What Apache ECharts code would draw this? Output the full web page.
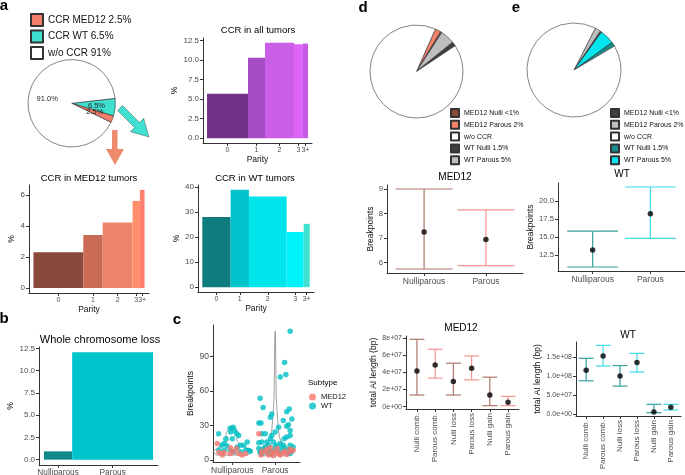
<!DOCTYPE html>
<html>
<head>
<meta charset="utf-8">
<script src="https://cdn.jsdelivr.net/npm/echarts@6/dist/echarts.min.js"></script>
<style>
html, body { margin: 0; padding: 0; background: #fff; }
#chart { width: 685px; height: 475px; }
</style>
</head>
<body>
<div id="chart"></div>
<script>
// ---------- data ----------
// panel a: pie of CCR frequency
const pieANames = ['CCR MED12 2.5%', 'CCR WT 6.5%', 'w/o CCR 91%']
const pieAValues = [2.5, 6.5, 91.0]

// panel a: CCR by parity (bar width = share of tumours, height = % with CCR)
const parityLabels = ['0', '1', '2', '3', '3+']
const allWidths = [41, 17, 29, 9, 5]
const allPct = [5.7, 10.3, 12.2, 12.0, 12.1]
const med12Widths = [50, 19.4, 30, 7.3, 4.7]
const med12Pct = [2.31, 3.41, 4.22, 5.61, 6.32]
const wtWidths = [28.3, 18.3, 37.7, 17, 6]
const wtPct = [28.0, 38.9, 36.2, 22.0, 25.3]

// panel b: whole chromosome loss
const parityCats = ['Nulliparous', 'Parous']
const wclWidths = [28.4, 81.3]
const wclPct = [0.93, 12.05]

// panel c: breakpoints per tumour, [jittered category, breakpoints]
const bpMed12 = [
  [0.65, 14.3], [0.69, 6.6], [0.77, 4.3], [0.81, 6.6], [0.95, 5.7], [1.02, 7.1], [1.15, 5.7],
  [1.23, 4.3], [1.31, 5.7], [1.10, 10.0], [0.96, 10.6],
  [1.62, 22.9], [2.35, 9.4], [2.42, 8.6], [1.69, 7.7], [1.77, 7.1], [1.89, 10.6], [1.92, 6.6],
  [2.00, 7.1], [2.08, 5.7], [2.19, 6.6], [1.85, 4.3], [1.96, 3.7], [2.12, 4.3], [2.27, 4.9],
  [1.81, 9.4], [2.05, 10.0], [1.67, 4.3], [2.35, 7.1], [2.23, 7.7]
]
const bpWt = [
  [0.68, 22.9], [0.75, 12.9], [0.81, 14.3], [0.85, 18.6], [0.95, 27.7], [0.96, 24.3], [1.02, 28.6],
  [1.05, 25.7], [1.10, 22.9], [1.15, 21.4], [1.00, 18.6], [0.88, 12.3], [1.19, 12.9], [1.27, 12.9],
  [1.35, 15.7], [1.38, 8.6], [0.81, 8.6], [0.69, 8.6], [1.12, 11.4], [1.04, 7.1], [0.95, 8.6],
  [1.19, 7.1], [1.31, 8.6], [1.42, 7.7],
  [2.35, 112.0], [2.22, 84.9], [2.25, 74.3], [2.12, 72.3], [1.65, 53.7], [1.72, 45.7], [2.33, 44.3],
  [2.27, 42.0], [1.92, 40.0], [1.89, 37.2], [2.39, 35.7], [1.62, 32.3], [1.67, 32.3], [2.19, 34.3],
  [2.31, 30.6], [2.27, 29.4], [2.08, 28.6], [2.35, 25.7], [2.00, 24.3], [1.92, 21.4], [1.69, 22.9],
  [1.77, 22.9], [2.35, 21.4], [2.27, 20.0], [1.89, 18.6], [2.21, 18.6], [1.96, 15.7], [2.12, 14.3],
  [1.81, 15.7], [1.69, 15.7], [1.62, 15.1], [1.85, 12.9], [2.04, 12.9], [2.19, 12.9], [2.35, 12.9],
  [2.42, 11.4], [1.62, 10.0], [1.73, 9.4], [1.89, 8.6], [2.08, 8.6], [2.23, 10.0], [2.31, 8.6],
  [2.39, 7.7], [1.65, 6.6], [1.81, 6.6], [1.96, 7.1], [2.12, 5.7], [2.27, 6.6], [2.35, 5.7],
  [2.00, 11.4], [1.77, 11.4], [2.15, 10.6], [1.69, 5.7], [1.92, 4.9]
]
// violin outlines: [breakpoints, half width in category units]
const violinNulli = [[4.3, 0.36], [6, 0.42], [8, 0.44], [10, 0.36], [12, 0.26], [14, 0.18], [16, 0.12],
  [18, 0.1], [20, 0.12], [22, 0.15], [24, 0.14], [26, 0.1], [28, 0.04], [28.6, 0]]
const violinParous = [[3.7, 0.3], [5, 0.38], [7, 0.4], [9, 0.37], [11, 0.3], [13, 0.22], [16, 0.14],
  [20, 0.1], [25, 0.08], [30, 0.07], [35, 0.06], [40, 0.05], [45, 0.04], [55, 0.025], [70, 0.02],
  [85, 0.015], [100, 0.01], [112, 0]]

// panels d / e: CCR split by subtype and parity
const ccrNames = ['MED12 Nulli <1%', 'MED12 Parous 2%', 'w/o CCR', 'WT Nulli 1.5%', 'WT Parous 5%']
const ccrPct = [0.5, 2, 91, 1.5, 5]
const pieOrder = [1, 0, 4, 3, 2]

// panels d / e: breakpoints (mean and interval)
const med12BpLow = [5.74, 5.88]
const med12BpMean = [7.25, 6.94]
const med12BpHigh = [9.0, 8.15]
const wtBpLow = [10.85, 14.8]
const wtBpMean = [13.2, 18.2]
const wtBpHigh = [15.8, 21.9]

// panels d / e: total AI length
const aiCats = ['Nulli comb.', 'Parous comb.', 'Nulli loss', 'Parous loss', 'Nulli gain', 'Parous gain']
const med12AiLow = [1.36e7, 3.33e7, 1.36e7, 3.13e7, 0.12e7, 0.12e7]
const med12AiMean = [4.17e7, 4.87e7, 2.94e7, 4.48e7, 1.36e7, 0.51e7]
const med12AiHigh = [7.85e7, 6.69e7, 5.07e7, 5.91e7, 3.44e7, 1.2e7]
const wtAiLow = [8.7e7, 12.6e7, 7.3e7, 11.0e7, 0.35e7, 1.05e7]
const wtAiMean = [11.5e7, 15.2e7, 9.95e7, 13.5e7, 0.52e7, 1.75e7]
const wtAiHigh = [14.6e7, 18.0e7, 12.7e7, 15.9e7, 2.53e7, 2.53e7]

// ---------- styles ----------
const FONT = "'Liberation Sans', Arial, sans-serif"
const allColors = ['#74318a', '#a74cc4', '#cb5ee7', '#de64f8', '#c75ae3']
const med12Colors = ['#8a4a3b', '#ca6b56', '#eb8468', '#ff8e6a', '#fe7f70']
const wtColors = ['#0f7d7d', '#00c3cb', '#00e4ec', '#00f3fb', '#3fe0d0']
const wclColors = ['#0e8a8a', '#00c4cc']
const dColors = ['#8b4a3c', '#f4826a', '#ffffff', '#404040', '#bebebe']
const eColors = ['#404040', '#bebebe', '#ffffff', '#178c8c', '#00e5ee']
const med12Bars = ['#ab7669', '#f5968f']
const wtBars = ['#35a0a0', '#3ddbe5']

// ---------- helpers ----------
const range = (lo, hi, f = 0.05) => [lo - (hi - lo) * f, hi + (hi - lo) * f]
const fix1 = v => v.toFixed(1)
const int = v => String(Math.round(v))
const sci = d => v => v.toExponential(d).replace(/e([+-])(\d)$/, (m, s, n) => 'e' + s + '0' + n)

function axis(gi, lim, ticks, fmt, o = {}) {
  return {
    type: 'value', gridIndex: gi, min: lim[0], max: lim[1],
    axisLine: { show: true, onZero: false, lineStyle: { color: '#333', width: 1 } },
    axisTick: { show: true, length: 3, customValues: ticks, lineStyle: { color: '#333' } },
    axisLabel: {
      show: o.noLabel ? false : true,
      customValues: ticks, formatter: fmt, margin: 4, rotate: o.rotate || 0, hideOverlap: false,
      showMinLabel: true, showMaxLabel: true,
      color: '#4d4d4d', fontSize: o.size || 8, fontFamily: FONT
    },
    splitLine: { show: false },
    name: o.name || '', nameLocation: 'middle', nameGap: o.gap || 10, nameRotate: o.nameRotate,
    nameTextStyle: { color: '#111', fontSize: 8.5, fontFamily: FONT }
  }
}

function histParts(widths) {
  const edges = []
  let x = 0
  widths.forEach(w => { edges.push([x, x + w]); x += w })
  return { edges, total: x, centers: edges.map(e => (e[0] + e[1]) / 2) }
}

function histAxes(gi, widths, values, yTicks, yFmt, yGap) {
  const h = histParts(widths)
  return {
    // tick labels for the parity bins are drawn by the bar series itself
    x: axis(gi, [-h.total * 0.04, h.total * 1.04], h.centers, null, { name: 'Parity', gap: 12, noLabel: true }),
    y: axis(gi, range(0, Math.max(...values)), yTicks, yFmt, { name: '%', gap: yGap, nameRotate: 90 })
  }
}

function histSeries(gi, widths, values, colors, labels, labelSize) {
  const h = histParts(widths)
  const yMin = range(0, Math.max(...values))[0]
  return {
    type: 'custom', xAxisIndex: gi, yAxisIndex: gi, silent: true,
    data: h.edges.map((e, i) => [e[0], e[1], values[i], i]),
    renderItem(params, api) {
      const i = api.value(3)
      const p0 = api.coord([api.value(0), api.value(2)])
      const p1 = api.coord([api.value(1), 0])
      const base = api.coord([(api.value(0) + api.value(1)) / 2, yMin])
      return {
        type: 'group', children: [
          { type: 'rect',
            shape: { x: p0[0], y: p0[1], width: p1[0] - p0[0], height: p1[1] - p0[1] },
            style: { fill: colors[i] } },
          { type: 'text', x: base[0], y: base[1] + 4,
            style: { text: labels[i], font: labelSize + 'px ' + FONT, fill: '#4d4d4d',
              align: 'center', verticalAlign: 'top', textAlign: 'center', textVerticalAlign: 'top' } }
        ]
      }
    }
  }
}

function errorBars(gi, lows, highs, colors, cap) {
  return {
    type: 'custom', xAxisIndex: gi, yAxisIndex: gi, silent: true,
    data: lows.map((lo, i) => [i + 1, lo, highs[i]]),
    renderItem(params, api) {
      const x = api.value(0)
      const lo = api.coord([x, api.value(1)])
      const hi = api.coord([x, api.value(2)])
      const l = api.coord([x - cap, api.value(1)])[0]
      const r = api.coord([x + cap, api.value(1)])[0]
      const style = { stroke: colors[params.dataIndex % colors.length], lineWidth: 1.2, fill: null }
      return {
        type: 'group', children: [
          { type: 'line', shape: { x1: lo[0], y1: lo[1], x2: hi[0], y2: hi[1] }, style },
          { type: 'line', shape: { x1: l, y1: lo[1], x2: r, y2: lo[1] }, style },
          { type: 'line', shape: { x1: l, y1: hi[1], x2: r, y2: hi[1] }, style }
        ]
      }
    }
  }
}

function meanPoints(gi, means) {
  return {
    type: 'scatter', xAxisIndex: gi, yAxisIndex: gi, silent: true, symbolSize: 5.5,
    itemStyle: { color: '#000' }, data: means.map((m, i) => [i + 1, m])
  }
}

const catFmt = cats => v => cats[Math.round(v) - 1] || ''
const lowHigh = (lo, hi) => range(Math.min(...lo), Math.max(...hi))

// ---------- axes ----------
const hAll = histAxes(0, allWidths, allPct, [0, 2.5, 5, 7.5, 10, 12.5], fix1, 21)
const hMed = histAxes(1, med12Widths, med12Pct, [0, 2, 4, 6], int, 10)
const hWt = histAxes(2, wtWidths, wtPct, [0, 10, 20, 30, 40], int, 16)
const wcl = histParts(wclWidths)
const allBp = bpMed12.concat(bpWt).map(p => p[1])

const xAxes = [
  hAll.x, hMed.x, hWt.x,
  axis(3, [-wcl.total * 0.045, wcl.total * 1.045], wcl.centers, null, { noLabel: true }),
  axis(4, [0.55, 2.58], [1, 2], catFmt(parityCats), { size: 8.5 }),
  axis(5, [0.4, 2.6], [1, 2], catFmt(parityCats), { size: 8.5 }),
  axis(6, [0.4, 2.6], [1, 2], catFmt(parityCats), { size: 8.5 }),
  axis(7, [0.4, 6.6], [1, 2, 3, 4, 5, 6], catFmt(aiCats), { size: 8, rotate: 90 }),
  axis(8, [0.4, 6.6], [1, 2, 3, 4, 5, 6], catFmt(aiCats), { size: 8, rotate: 90 })
]
const yAxes = [
  hAll.y, hMed.y, hWt.y,
  axis(3, range(0, Math.max(...wclPct)), [0, 2.5, 5, 7.5, 10, 12.5], fix1, { name: '%', gap: 12, nameRotate: 90 }),
  axis(4, range(Math.min(...allBp), Math.max(...allBp)), [0, 30, 60, 90], int,
    { name: 'Breakpoints', gap: 18, nameRotate: 90, size: 8.5 }),
  axis(5, lowHigh(med12BpLow, med12BpHigh), [6, 7, 8, 9], int,
    { name: 'Breakpoints', gap: 10, nameRotate: 90, size: 7.7 }),
  axis(6, lowHigh(wtBpLow, wtBpHigh), [12.5, 15, 17.5, 20], fix1,
    { name: 'Breakpoints', gap: 20, nameRotate: 90, size: 7.7 }),
  axis(7, lowHigh(med12AiLow, med12AiHigh), [0, 2e7, 4e7, 6e7, 8e7], sci(0),
    { name: 'total AI length (bp)', gap: 28, nameRotate: 90, size: 7 }),
  axis(8, lowHigh(wtAiLow, wtAiHigh), [0, 5e7, 10e7, 15e7], sci(1),
    { name: 'total AI length (bp)', gap: 34, nameRotate: 90, size: 7 })
]

// ---------- text ----------
const texts = [
  ['a', 4, 6, 'bold 15px'], ['b', 4, 319, 'bold 15px'], ['c', 177, 320, 'bold 15px'],
  ['d', 363, 7.5, 'bold 15px'], ['e', 516, 7.5, 'bold 15px'],
  ['CCR in all tumors', 258, 30, '9.5px'], ['CCR in MED12 tumors', 89, 178, '9.5px'],
  ['CCR in WT tumors', 255, 178, '9.5px'], ['Whole chromosome loss', 100, 340, '11px'],
  ['MED12', 455, 177, '10px'], ['WT', 622, 174, '10px'],
  ['MED12', 461, 328, '10px'], ['WT', 628, 335, '10px']
].map(([t, x, y, f]) => ({
  type: 'text', x, y, silent: true,
  style: { text: t, font: f + ' ' + FONT, fill: '#000', align: 'center', verticalAlign: 'middle',
    textAlign: 'center', textVerticalAlign: 'middle' }
}))
texts.push({
  type: 'text', x: 308, y: 383, silent: true,
  style: { text: 'Subtype', font: '8px ' + FONT, fill: '#000', verticalAlign: 'middle', textVerticalAlign: 'middle' }
})

// arrows from the pie in panel a
const arrows = [
  { type: 'polygon', silent: true,
    shape: { points: [[112, 130], [117.5, 130], [117.5, 149], [124, 149], [115, 165], [106, 149], [112, 149]] },
    style: { fill: '#ee8b6e' } },
  { type: 'polygon', silent: true,
    shape: { points: [[122.5, 105.5], [139.5, 122.5], [143.7, 118.3], [149, 137], [130.3, 131.7], [134.5, 127.5], [117.5, 110.5]] },
    style: { fill: '#40e0d0', stroke: '#555', lineWidth: 0.5 } }
]

const pieBase = {
  type: 'pie', silent: true, clockwise: true, emphasis: { disabled: true },
  avoidLabelOverlap: false, minShowLabelAngle: 0, labelLayout: { hideOverlap: false },
  itemStyle: { borderColor: '#333', borderWidth: 0.6 }, labelLine: { show: false }
}

const chart = echarts.init(document.getElementById('chart'), null, { renderer: 'canvas' })
chart.setOption({
  animation: false,
  backgroundColor: '#fff',
  textStyle: { fontFamily: FONT },
  grid: [
    { left: 203, top: 38, width: 109, height: 105 },
    { left: 29, top: 185, width: 120, height: 108 },
    { left: 198, top: 185, width: 116, height: 107 },
    { left: 39, top: 347, width: 119, height: 118 },
    { left: 213, top: 325, width: 87, height: 138 },
    { left: 387, top: 185, width: 136, height: 88 },
    { left: 558, top: 183, width: 127, height: 88 },
    { left: 406, top: 336, width: 113, height: 73 },
    { left: 576, top: 342, width: 105, height: 74 }
  ],
  xAxis: xAxes,
  yAxis: yAxes,
  legend: [
    { left: 30, top: 13, orient: 'vertical', icon: 'rect', itemWidth: 12, itemHeight: 12, itemGap: 2.5,
      padding: 0, selectedMode: false, data: pieANames,
      textStyle: { fontSize: 10, color: '#111', fontFamily: FONT } },
    { left: 450, top: 108, orient: 'vertical', icon: 'rect', itemWidth: 8, itemHeight: 8, itemGap: 1.8,
      padding: 0, selectedMode: false, data: ccrNames,
      textStyle: { fontSize: 7, color: '#111', fontFamily: FONT } },
    { left: 610, top: 108, orient: 'vertical', icon: 'rect', itemWidth: 8, itemHeight: 8, itemGap: 1.8,
      padding: 0, selectedMode: false,
      data: ccrNames.map((n, i) => ({ name: n, itemStyle: { color: eColors[i] } })),
      textStyle: { fontSize: 7, color: '#111', fontFamily: FONT } },
    { left: 309, top: 393, orient: 'vertical', icon: 'circle', itemWidth: 7, itemHeight: 7, itemGap: 1,
      padding: 0, selectedMode: false, data: ['MED12', 'WT'],
      textStyle: { fontSize: 7.5, color: '#111', fontFamily: FONT } }
  ],
  graphic: { elements: texts.concat(arrows) },
  series: [
    Object.assign({}, pieBase, {
      center: [71.7, 103.3], radius: 43.7, startAngle: 6.5,
      data: [1, 0, 2].map(i => ({ name: pieANames[i], value: pieAValues[i],
        itemStyle: { color: ['#f47d6b', '#40e0d0', '#ffffff'][i] } })),
      label: { show: true, position: 'inside', formatter: p => p.value.toFixed(1) + '%',
        fontSize: 7.5, color: '#222', fontFamily: FONT }
    }),
    Object.assign({}, pieBase, {
      center: [416.5, 71.5], radius: 46.5, startAngle: 66, label: { show: false },
      data: pieOrder.map(i => ({ name: ccrNames[i], value: ccrPct[i], itemStyle: { color: dColors[i] } }))
    }),
    Object.assign({}, pieBase, {
      center: [574, 70], radius: 47, startAngle: 63, label: { show: false },
      data: pieOrder.map(i => ({ name: ccrNames[i], value: ccrPct[i], itemStyle: { color: eColors[i] } }))
    }),
    histSeries(0, allWidths, allPct, allColors, parityLabels, 7),
    histSeries(1, med12Widths, med12Pct, med12Colors, parityLabels, 7),
    histSeries(2, wtWidths, wtPct, wtColors, parityLabels, 7),
    histSeries(3, wclWidths, wclPct, wclColors, parityCats, 8.3),
    {
      type: 'custom', xAxisIndex: 4, yAxisIndex: 4, silent: true,
      data: [[1], [2]],
      renderItem(params, api) {
        const cat = api.value(0)
        const prof = [violinNulli, violinParous][params.dataIndex]
        const right = prof.map(([v, hw]) => api.coord([cat + hw, v]))
        const left = prof.slice().reverse().map(([v, hw]) => api.coord([cat - hw, v]))
        return { type: 'polygon', shape: { points: right.concat(left) },
          style: { fill: 'none', stroke: '#777', lineWidth: 0.7 } }
      }
    },
    { name: 'WT', type: 'scatter', xAxisIndex: 4, yAxisIndex: 4, symbolSize: 5.5,
      itemStyle: { color: '#00bfc4' }, data: bpWt },
    { name: 'MED12', type: 'scatter', xAxisIndex: 4, yAxisIndex: 4, symbolSize: 5.5,
      itemStyle: { color: '#f8766d' }, data: bpMed12 },
    errorBars(5, med12BpLow, med12BpHigh, med12Bars, 0.46),
    meanPoints(5, med12BpMean),
    errorBars(6, wtBpLow, wtBpHigh, wtBars, 0.44),
    meanPoints(6, wtBpMean),
    errorBars(7, med12AiLow, med12AiHigh, med12Bars, 0.41),
    meanPoints(7, med12AiMean),
    errorBars(8, wtAiLow, wtAiHigh, wtBars, 0.44),
    meanPoints(8, wtAiMean)
  ]
})
</script>
</body>
</html>
